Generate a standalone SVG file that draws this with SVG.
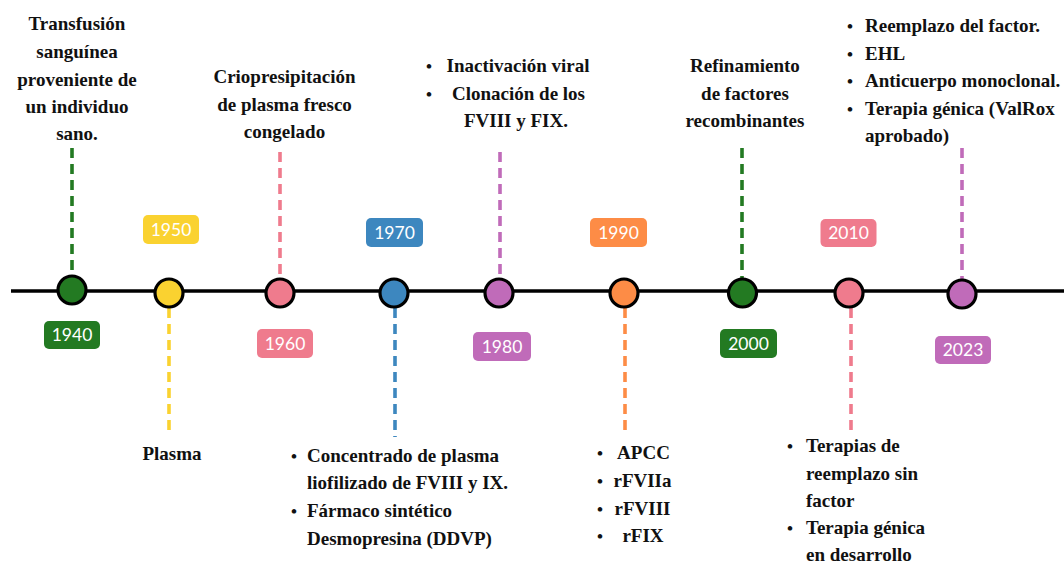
<svg xmlns="http://www.w3.org/2000/svg" width="1064" height="563" viewBox="0 0 1064 563">
<style>
.t{font-family:"Liberation Serif","Times New Roman",serif;font-weight:bold;font-size:19px;fill:#111}
.c{text-anchor:middle}
.b{font-family:"Liberation Serif","Times New Roman",serif;font-weight:bold;font-size:17px;fill:#111}
.yr{font-family:Lato,"Open Sans",sans-serif;font-size:17.5px;fill:#fff;text-anchor:middle}
.dot{stroke:#000;stroke-width:3.2}
.d{stroke-width:3.6;stroke-dasharray:10 6;fill:none}
.g{fill:#237a22}.y{fill:#fad230}.p{fill:#ef7b8d}.bl{fill:#3d87bf}.pu{fill:#c06bb9}.o{fill:#fd8c46}
</style>
<rect width="1064" height="563" fill="#fff"/>
<g id="connectors">
<line x1="72" y1="148" x2="72" y2="276" class="d" stroke="#237a22"/>
<line x1="169" y1="308" x2="169" y2="432" class="d" stroke="#fad230"/>
<line x1="280" y1="152" x2="280" y2="278" class="d" stroke="#ef7b8d"/>
<line x1="395" y1="308" x2="395" y2="437" class="d" stroke="#3d87bf"/>
<line x1="500" y1="152" x2="500" y2="278" class="d" stroke="#c06bb9"/>
<line x1="625" y1="308" x2="625" y2="432" class="d" stroke="#fd8c46"/>
<line x1="742" y1="148" x2="742" y2="279" class="d" stroke="#237a22"/>
<line x1="851" y1="308" x2="851" y2="430" class="d" stroke="#ef7b8d"/>
<line x1="962" y1="148" x2="962" y2="280" class="d" stroke="#c06bb9"/>
</g>
<line id="timeline" x1="11" y1="291" x2="1064" y2="291" stroke="#000" stroke-width="3.5"/>
<g id="n1940">
<circle cx="72" cy="290" r="14" class="dot g"/>
<rect x="44" y="321" width="56" height="28" rx="5" class="g"/>
<text x="72" y="341" class="yr">1940</text>
<text class="t c"><tspan x="77" y="30">Transfusión</tspan><tspan x="77" y="58">sanguínea</tspan><tspan x="77" y="86">proveniente de</tspan><tspan x="77" y="113">un individuo</tspan><tspan x="77" y="140">sano.</tspan></text>
</g>
<g id="n1950">
<circle cx="169" cy="293" r="14" class="dot y"/>
<rect x="143" y="215" width="56" height="29" rx="5" class="y"/>
<text x="171" y="235.5" class="yr">1950</text>
<text x="172" y="460" class="t c">Plasma</text>
</g>
<g id="n1960">
<circle cx="280" cy="293" r="14" class="dot p"/>
<rect x="257" y="329" width="56" height="29" rx="5" class="p"/>
<text x="285" y="349.5" class="yr">1960</text>
<text class="t c"><tspan x="284.5" y="83">Criopresipitación</tspan><tspan x="284.5" y="111">de plasma fresco</tspan><tspan x="284.5" y="138">congelado</tspan></text>
</g>
<g id="n1970">
<circle cx="394" cy="293" r="14" class="dot bl"/>
<rect x="366" y="218" width="57" height="29" rx="5" class="bl"/>
<text x="394.5" y="238.5" class="yr">1970</text>
<text x="291" y="462" class="b">•</text>
<text x="291" y="517" class="b">•</text>
<text class="t"><tspan x="307" y="462">Concentrado de plasma</tspan><tspan x="307" y="489">liofilizado de FVIII y IX.</tspan><tspan x="307" y="517">Fármaco sintético</tspan><tspan x="307" y="545">Desmopresina (DDVP)</tspan></text>
</g>
<g id="n1980">
<circle cx="499" cy="293" r="14" class="dot pu"/>
<rect x="473" y="332" width="58" height="29" rx="5" class="pu"/>
<text x="502" y="352.5" class="yr">1980</text>
<text x="426" y="72" class="b">•</text>
<text x="426" y="100" class="b">•</text>
<text class="t c"><tspan x="518" y="72">Inactivación viral</tspan><tspan x="518.5" y="100">Clonación de los</tspan><tspan x="516" y="127">FVIII y FIX.</tspan></text>
</g>
<g id="n1990">
<circle cx="624" cy="293" r="14" class="dot o"/>
<rect x="590" y="218" width="57" height="29" rx="5" class="o"/>
<text x="618.5" y="238.5" class="yr">1990</text>
<text x="597" y="459" class="b">•</text>
<text x="597" y="487" class="b">•</text>
<text x="597" y="515" class="b">•</text>
<text x="597" y="542" class="b">•</text>
<text class="t c"><tspan x="643.5" y="459">APCC</tspan><tspan x="642.5" y="487">rFVIIa</tspan><tspan x="642.5" y="515">rFVIII</tspan><tspan x="643" y="542">rFIX</tspan></text>
</g>
<g id="n2000">
<circle cx="742.5" cy="293" r="14" class="dot g"/>
<rect x="720" y="329" width="57" height="29" rx="5" class="g"/>
<text x="748.5" y="349.5" class="yr">2000</text>
<text class="t c"><tspan x="745" y="72">Refinamiento</tspan><tspan x="745" y="100">de factores</tspan><tspan x="745" y="127">recombinantes</tspan></text>
</g>
<g id="n2010">
<circle cx="849" cy="293" r="14" class="dot p"/>
<rect x="820.5" y="219" width="56" height="28" rx="5" class="p"/>
<text x="848.5" y="239" class="yr">2010</text>
<text x="787" y="452" class="b">•</text>
<text x="787" y="534" class="b">•</text>
<text class="t"><tspan x="806" y="452">Terapias de</tspan><tspan x="806" y="480">reemplazo sin</tspan><tspan x="806" y="507">factor</tspan><tspan x="806" y="534">Terapia génica</tspan><tspan x="806" y="561">en desarrollo</tspan></text>
</g>
<g id="n2023">
<circle cx="962" cy="294" r="14" class="dot pu"/>
<rect x="935" y="336" width="56" height="28" rx="5" class="pu"/>
<text x="963" y="356" class="yr">2023</text>
<text x="847" y="32" class="b">•</text>
<text x="847" y="60" class="b">•</text>
<text x="847" y="87" class="b">•</text>
<text x="847" y="115" class="b">•</text>
<text class="t"><tspan x="865" y="32">Reemplazo del factor.</tspan><tspan x="865" y="60">EHL</tspan><tspan x="865" y="87">Anticuerpo monoclonal.</tspan><tspan x="865" y="115">Terapia génica (ValRox</tspan><tspan x="865" y="142">aprobado)</tspan></text>
</g>
</svg>
